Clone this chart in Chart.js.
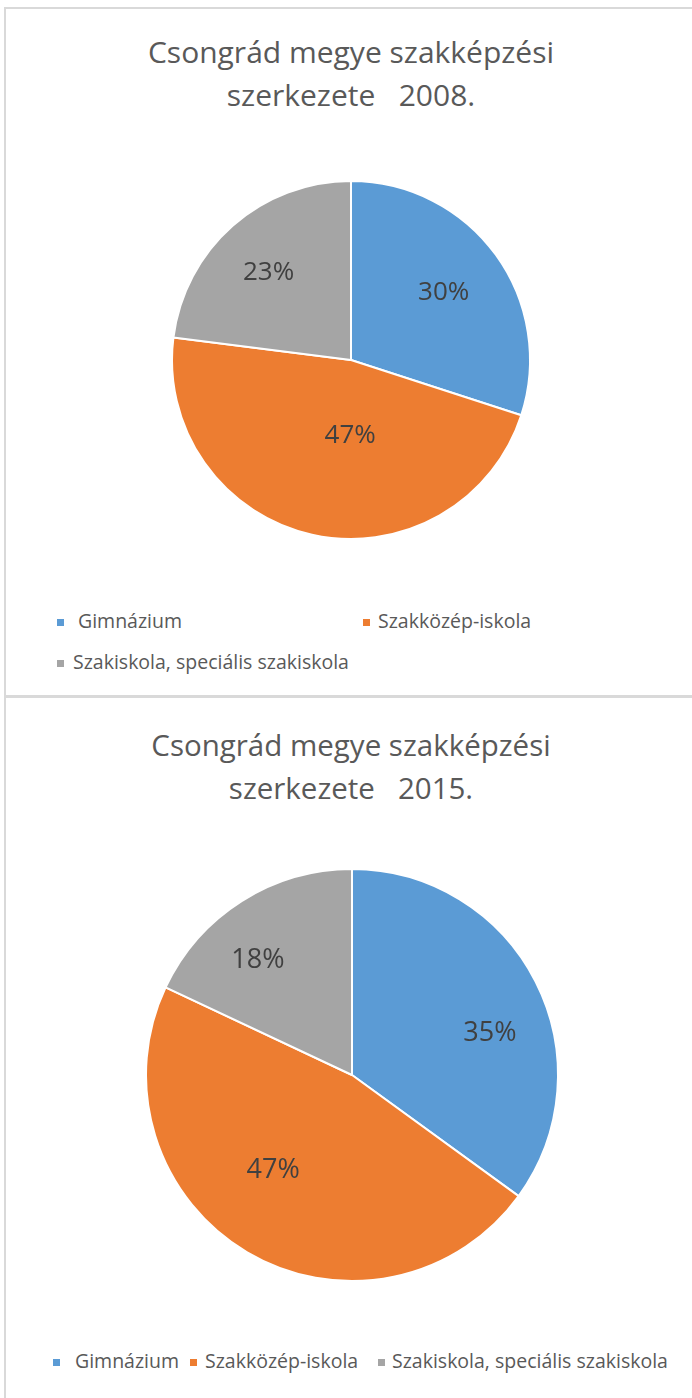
<!DOCTYPE html>
<html lang="hu">
<head>
<meta charset="utf-8">
<title>Csongrád megye szakképzési szerkezete</title>
<script src="https://cdn.jsdelivr.net/npm/chart.js@4/dist/chart.umd.min.js"></script>
<style>
  html, body { margin: 0; padding: 0; background: #fff; }
  body { width: 692px; height: 1398px; position: relative; overflow: hidden;
         font-family: "Open Sans", sans-serif; color: #595959; }
  .rule { position: absolute; background: #d9d9d9; }
  .title { position: absolute; left: 5px; width: 692px; text-align: center;
           font-size: 30px; line-height: 43px; color: #595959; white-space: pre; }
  .box { position: absolute; }
  .legend { position: absolute; left: 0; top: 0; font-size: 19.5px; color: #595959; white-space: nowrap; }
  .legend i { position: absolute; display: block; width: 7px; height: 7px; }
  .legend span { position: absolute; line-height: 24px; }
</style>
</head>
<body>
<div class="rule" style="left:4px;top:7px;width:688px;height:2px"></div>
<div class="rule" style="left:4px;top:7px;width:2px;height:1391px"></div>
<div class="rule" style="left:4px;top:695px;width:688px;height:3px"></div>

<div class="title" id="title1" style="top:30px"></div>
<div class="box" style="left:5px;top:180px;width:692px;height:360px"><canvas id="pie2008"></canvas></div>
<div class="legend" id="legend1"></div>

<div class="title" id="title2" style="top:723px;font-size:29.5px"></div>
<div class="box" style="left:6px;top:868px;width:692px;height:414px"><canvas id="pie2015"></canvas></div>
<div class="legend" id="legend2"></div>

<script>
// ---------- adatok ----------
const categories = ['Gimnázium', 'Szakközép-iskola', 'Szakiskola, speciális szakiskola'];
const colors = ['#5b9bd5', '#ed7d31', '#a5a5a5'];
const shares2008 = [30, 47, 23];
const shares2015 = [35, 47, 18];
const title2008 = 'Csongrád megye szakképzési\nszerkezete   2008.';
const title2015 = 'Csongrád megye szakképzési\nszerkezete   2015.';

// címkék helye: sugár aránya + szögeltolás (fok) szeletenként
const labelPos2008 = {r: [0.64, 0.42, 0.67], shift: [0, -12, -2]};
const labelPos2015 = {r: [0.70, 0.60, 0.72], shift: [10, 9, -7]};

// jelmagyarázat: [négyzet x, szöveg x, közép y] tételenként
const legendLayout1 = [[57, 78, 622], [363, 378, 622], [57, 73, 663]];
const legendLayout2 = [[53, 75, 1362], [190, 205, 1362], [378, 392, 1362]];

// ---------- felirat-plugin ----------
const pieLabels = {
  id: 'pieLabels',
  afterDatasetsDraw(chart, args, opts) {
    const {ctx} = chart;
    const meta = chart.getDatasetMeta(0);
    const data = chart.data.datasets[0].data;
    const total = data.reduce((a, b) => a + b, 0);
    ctx.save();
    ctx.font = `${opts.size}px "Open Sans", sans-serif`;
    ctx.fillStyle = '#404040';
    ctx.textAlign = 'center';
    ctx.textBaseline = 'middle';
    meta.data.forEach((arc, i) => {
      const {x, y, startAngle, endAngle, outerRadius} = arc.getProps(['x', 'y', 'startAngle', 'endAngle', 'outerRadius'], true);
      const a = (startAngle + endAngle) / 2 + (opts.pos.shift[i] * Math.PI / 180);
      const d = outerRadius * opts.pos.r[i];
      ctx.fillText(Math.round(data[i] / total * 100) + '%', x + Math.cos(a) * d, y + Math.sin(a) * d);
    });
    ctx.restore();
  },
};

function makePie(id, values, pos, size) {
  return new Chart(document.getElementById(id), {
    type: 'pie',
    data: {
      labels: categories,
      datasets: [{
        data: values,
        backgroundColor: colors,
        borderColor: '#ffffff',
        borderWidth: 2,
      }],
    },
    options: {
      responsive: true,
      maintainAspectRatio: false,
      animation: false,
      layout: {padding: 0},
      plugins: {
        legend: {display: false},
        tooltip: {enabled: false},
        title: {display: false},
        pieLabels: {pos, size},
      },
    },
    plugins: [pieLabels],
  });
}

function renderLegend(el, layout) {
  el.innerHTML = categories.map((c, i) => {
    const [sx, tx, cy] = layout[i];
    return `<i style="left:${sx}px;top:${cy - 3}px;background:${colors[i]}"></i>` +
      `<span style="left:${tx}px;top:${cy - 13}px">${c}</span>`;
  }).join('');
}

document.getElementById('title1').textContent = title2008;
document.getElementById('title2').textContent = title2015;
renderLegend(document.getElementById('legend1'), legendLayout1);
renderLegend(document.getElementById('legend2'), legendLayout2);
makePie('pie2008', shares2008, labelPos2008, 26);
makePie('pie2015', shares2015, labelPos2015, 27);
</script>
</body>
</html>
